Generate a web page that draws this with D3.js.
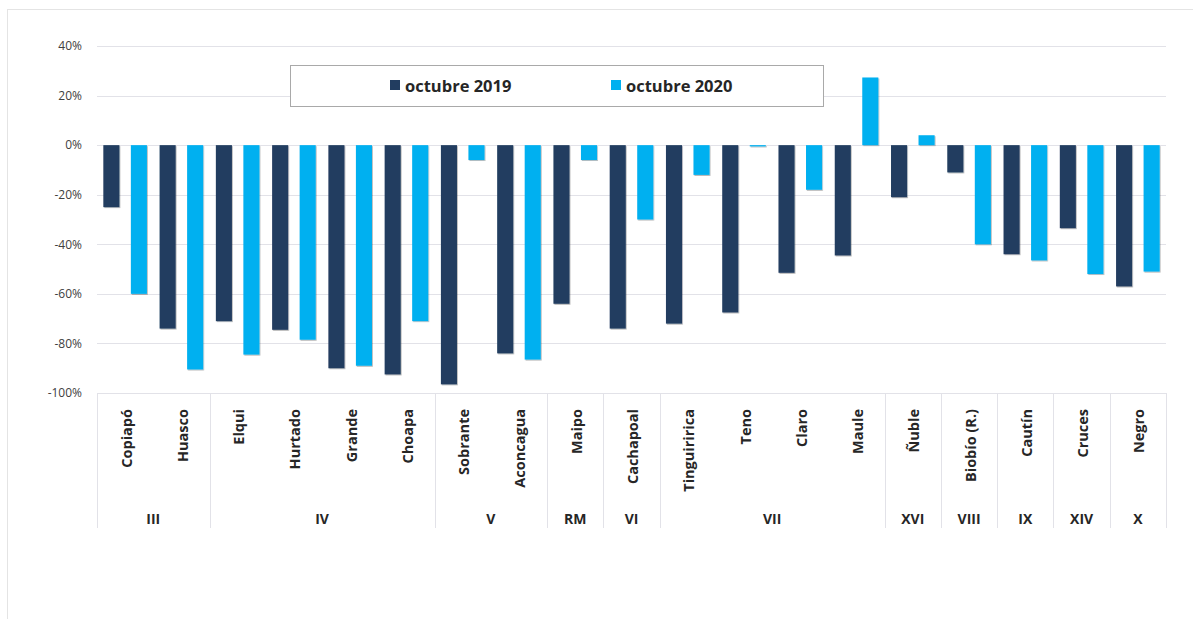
<!DOCTYPE html>
<html>
<head>
<meta charset="utf-8">
<script src="https://cdn.jsdelivr.net/npm/d3@7"></script>
<style>
  html, body { margin: 0; padding: 0; background: #ffffff; }
  svg { display: block; font-family: "Open Sans", "Liberation Sans", sans-serif; }
</style>
</head>
<body>
<svg id="chart" width="1193" height="619"></svg>
<script>
// River basins (inner category level)
const categories = ["Copiapó", "Huasco", "Elqui", "Hurtado", "Grande", "Choapa", "Sobrante", "Aconcagua",
  "Maipo", "Cachapoal", "Tinguiririca", "Teno", "Claro", "Maule", "Ñuble", "Biobío (R.)", "Cautín", "Cruces", "Negro"];
// Administrative regions (outer category level) and how many basins each spans
const regions = ["III", "IV", "V", "RM", "VI", "VII", "XVI", "VIII", "IX", "XIV", "X"];
const regionSpan = [2, 4, 2, 1, 1, 4, 1, 1, 1, 1, 1];
// Percentage change, per basin
const oct2019 = [-25, -74, -71, -74.5, -90, -92.5, -96.5, -84, -64, -74, -72, -67.5, -51.5, -44.5, -21, -11, -44, -33.5, -57];
const oct2020 = [-60, -90.5, -84.5, -78.5, -89, -71, -6, -86.5, -6, -30, -12, -0.5, -18, 27.3, 4, -40, -46.5, -52, -51];
const seriesNames = ["octubre 2019", "octubre 2020"];
const yTicks = [40, 20, 0, -20, -40, -60, -80, -100];

const colors = ["#223d60", "#00b0f0"];
const svg = d3.select("#chart");

// outer frame (top and left edges)
svg.append("line").attr("x1", 7).attr("x2", 1193).attr("y1", 9.5).attr("y2", 9.5)
  .attr("stroke", "#e4e4e4").attr("stroke-width", 1);
svg.append("line").attr("x1", 7.5).attr("x2", 7.5).attr("y1", 9).attr("y2", 619)
  .attr("stroke", "#e4e4e4").attr("stroke-width", 1);

const left = 97, right = 1166;
const y = d3.scaleLinear().domain([-100, 40]).range([393, 46]);
const x = d3.scaleBand().domain(categories).range([left, right]).padding(0);
const xs = d3.scaleBand().domain(seriesNames).range([0, x.bandwidth()])
  .paddingInner(0.416).paddingOuter(0.23);

// shadow under bars
const defs = svg.append("defs");
const f = defs.append("filter").attr("id", "barShadow")
  .attr("x", "-20%").attr("y", "-20%").attr("width", "150%").attr("height", "150%");
f.append("feDropShadow").attr("dx", 0.8).attr("dy", 1).attr("stdDeviation", 0.7)
  .attr("flood-color", "#000").attr("flood-opacity", 0.3);

// gridlines
svg.append("g").selectAll("line").data(yTicks).join("line")
  .attr("x1", left).attr("x2", right)
  .attr("y1", d => Math.round(y(d)) + 0.5).attr("y2", d => Math.round(y(d)) + 0.5)
  .attr("stroke", "#e2e2e8").attr("stroke-width", 1);

// y axis labels
const yAxis = d3.axisLeft(y).tickValues(yTicks).tickSize(0).tickPadding(0)
  .tickFormat(d => d + "%");
svg.append("g").attr("transform", `translate(82,0)`).call(yAxis)
  .call(g => g.select(".domain").remove())
  .call(g => g.selectAll("text").attr("font-size", 12).attr("fill", "#404040")
    .attr("font-family", "'Open Sans', sans-serif"));

// bars
const rows = categories.map((c, i) => ({ cat: c, vals: [oct2019[i], oct2020[i]] }));
const barG = svg.append("g").attr("filter", "url(#barShadow)");
rows.forEach(r => {
  r.vals.forEach((v, k) => {
    barG.append("rect")
      .attr("x", x(r.cat) + xs(seriesNames[k]))
      .attr("width", xs.bandwidth())
      .attr("y", y(Math.max(0, v)))
      .attr("height", Math.abs(y(v) - y(0)))
      .attr("fill", colors[k]);
  });
});

// category labels (rotated)
svg.append("g").selectAll("text").data(categories).join("text")
  .attr("transform", d => `translate(${x(d) + x.bandwidth() / 2 + 1},409) rotate(-90)`)
  .attr("text-anchor", "end")
  .attr("dominant-baseline", "central")
  .attr("font-size", 14.5).attr("font-weight", 700).attr("fill", "#262626")
  .text(d => d);

// region separators and labels
let startIdx = 0;
const bounds = [left];
const regionMid = [];
regions.forEach((r, i) => {
  const x0 = x(categories[startIdx]);
  const endIdx = startIdx + regionSpan[i] - 1;
  const x1 = x(categories[endIdx]) + x.bandwidth();
  bounds.push(x1);
  regionMid.push((x0 + x1) / 2);
  startIdx = endIdx + 1;
});
svg.append("g").selectAll("line").data(bounds).join("line")
  .attr("x1", d => Math.round(d) + 0.5).attr("x2", d => Math.round(d) + 0.5)
  .attr("y1", 393).attr("y2", 528)
  .attr("stroke", "#e2e2e8").attr("stroke-width", 1);
svg.append("g").selectAll("text").data(regions).join("text")
  .attr("x", (d, i) => regionMid[i]).attr("y", 518)
  .attr("text-anchor", "middle").attr("dominant-baseline", "central")
  .attr("font-size", 14).attr("font-weight", 700).attr("fill", "#262626")
  .text(d => d);

// legend
const lg = svg.append("g");
lg.append("rect").attr("x", 290.5).attr("y", 65.5).attr("width", 533).attr("height", 41)
  .attr("fill", "#ffffff").attr("stroke", "#a9a9a9").attr("stroke-width", 1);
const legendX = [390, 611];
seriesNames.forEach((s, k) => {
  lg.append("rect").attr("x", legendX[k]).attr("y", 80).attr("width", 10).attr("height", 10)
    .attr("fill", colors[k]);
  lg.append("text").attr("x", legendX[k] + 15).attr("y", 85.5)
    .attr("dominant-baseline", "central")
    .attr("font-size", 16.5).attr("font-weight", 700).attr("fill", "#262626")
    .text(s);
});
</script>
</body>
</html>
